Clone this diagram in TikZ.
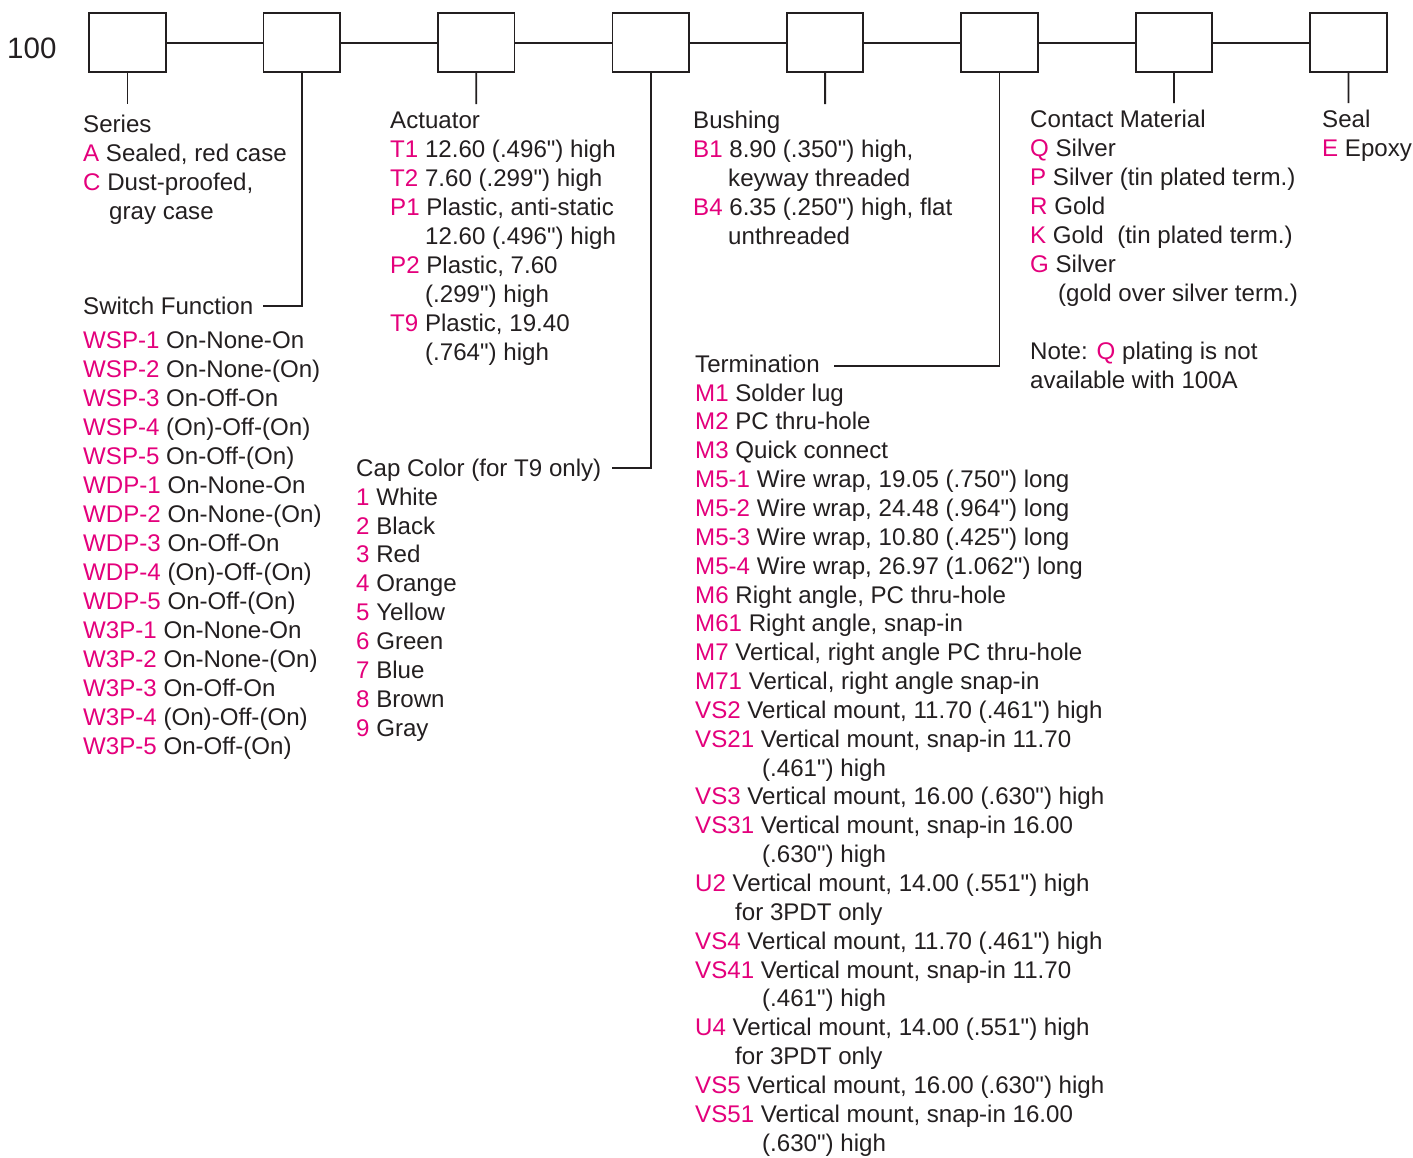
\documentclass[tikz,border=0pt]{standalone}
\usepackage{fontspec}
\setmainfont{Liberation Sans}
\definecolor{ink}{HTML}{231F20}
\definecolor{mag}{HTML}{E4007C}
\newcommand\mg[1]{\textcolor{mag}{#1}}
\newcommand\mys{\rule[-7pt]{0pt}{28pt}}
\font\qfont="Liberation Sans" at 24.1pt
\newcommand\q{{\qfont\char34}}
\begin{document}
\begin{tikzpicture}[x=1pt,y=-1pt,
  box/.style={draw=ink,line width=1.8pt,minimum width=76.5pt,minimum height=59pt,inner sep=0pt},
  wire/.style={draw=ink,line width=1.8pt},
  txt/.style={inner sep=0pt,anchor=north west,align=left,text=ink,font=\fontsize{24.1}{29}\selectfont},
  txtt/.style={txt,font=\fontsize{24.1}{28.85}\selectfont},
  txtc/.style={txt,font=\fontsize{24.1}{28.9}\selectfont}]
\useasboundingbox (0,0) rectangle (1413,1157);
\fill[white] (0,0) rectangle (1413,1157);

\node[inner sep=0pt,anchor=base west,text=ink,font=\fontsize{29.5}{34}\selectfont] (code) at (7,58) {100};

\foreach \k in {1,...,8}{
  \node[box] (b\k) at ({127.4+174.43*(\k-1)},42.8) {};
}
\foreach \a/\b in {1/2,2/3,3/4,4/5,5/6,6/7,7/8}{
  \draw[wire] (b\a.east) -- (b\b.west);
}

% stubs
\coordinate (s1) at (127.4,104);
\coordinate (s3) at (476.3,104);
\coordinate (s5) at (825.1,104);
\coordinate (s7) at (1174.0,103);
\coordinate (s8) at (1348.4,103);
\draw[wire] (b1.south) -- (s1);
\draw[wire] (b3.south) -- (s3);
\draw[wire] (b5.south) -- (s5);
\draw[wire] (b7.south) -- (s7);
\draw[wire] (b8.south) -- (s8);
\coordinate (e2) at (263,306);
\coordinate (e4) at (612,468.3);
\coordinate (e6) at (834,366);
\draw[wire] (b2.south) |- (e2);
\draw[wire] (b4.south) |- (e4);
\draw[wire] (b6.south) |- (e6);

% Series
\node[txt] (series) at (83,111) {\mys Series\\
\mys\mg{A} Sealed, red case\\
\mys\mg{C} Dust-proofed,\\
\mys\hspace*{26pt}gray case};

% Switch function
\node[txt] (swhdr) at (83,293) {\mys Switch Function};
\node[txt] (swlist) at (83,327) {\mys\mg{WSP-1} On-None-On\\
\mys\mg{WSP-2} On-None-(On)\\
\mys\mg{WSP-3} On-Off-On\\
\mys\mg{WSP-4} (On)-Off-(On)\\
\mys\mg{WSP-5} On-Off-(On)\\
\mys\mg{WDP-1} On-None-On\\
\mys\mg{WDP-2} On-None-(On)\\
\mys\mg{WDP-3} On-Off-On\\
\mys\mg{WDP-4} (On)-Off-(On)\\
\mys\mg{WDP-5} On-Off-(On)\\
\mys\mg{W3P-1} On-None-On\\
\mys\mg{W3P-2} On-None-(On)\\
\mys\mg{W3P-3} On-Off-On\\
\mys\mg{W3P-4} (On)-Off-(On)\\
\mys\mg{W3P-5} On-Off-(On)};

% Actuator
\node[txt] (act) at (390,107) {\mys Actuator\\
\mys\mg{T1} 12.60 (.496\q) high\\
\mys\mg{T2} 7.60 (.299\q) high\\
\mys\mg{P1} Plastic, anti-static\\
\mys\hspace*{35pt}12.60 (.496\q) high\\
\mys\mg{P2} Plastic, 7.60\\
\mys\hspace*{35pt}(.299\q) high\\
\mys\mg{T9} Plastic, 19.40\\
\mys\hspace*{35pt}(.764\q) high};

% Cap color
\node[txtc] (cap) at (356,455) {\mys Cap Color (for T9 only)\\
\mys\mg{1} White\\
\mys\mg{2} Black\\
\mys\mg{3} Red\\
\mys\mg{4} Orange\\
\mys\mg{5} Yellow\\
\mys\mg{6} Green\\
\mys\mg{7} Blue\\
\mys\mg{8} Brown\\
\mys\mg{9} Gray};

% Bushing
\node[txt] (bush) at (693,107) {\mys Bushing\\
\mys\mg{B1} 8.90 (.350\q) high,\\
\mys\hspace*{35pt}keyway threaded\\
\mys\mg{B4} 6.35 (.250\q) high, flat\\
\mys\hspace*{35pt}unthreaded};

% Termination
\node[txtt] (term) at (695,351) {\mys Termination\\
\mys\mg{M1} Solder lug\\
\mys\mg{M2} PC thru-hole\\
\mys\mg{M3} Quick connect\\
\mys\mg{M5-1} Wire wrap, 19.05 (.750\q) long\\
\mys\mg{M5-2} Wire wrap, 24.48 (.964\q) long\\
\mys\mg{M5-3} Wire wrap, 10.80 (.425\q) long\\
\mys\mg{M5-4} Wire wrap, 26.97 (1.062\q) long\\
\mys\mg{M6} Right angle, PC thru-hole\\
\mys\mg{M61} Right angle, snap-in\\
\mys\mg{M7} Vertical, right angle PC thru-hole\\
\mys\mg{M71} Vertical, right angle snap-in\\
\mys\mg{VS2} Vertical mount, 11.70 (.461\q) high\\
\mys\mg{VS21} Vertical mount, snap-in 11.70\\
\mys\hspace*{67pt}(.461\q) high\\
\mys\mg{VS3} Vertical mount, 16.00 (.630\q) high\\
\mys\mg{VS31} Vertical mount, snap-in 16.00\\
\mys\hspace*{67pt}(.630\q) high\\
\mys\mg{U2} Vertical mount, 14.00 (.551\q) high\\
\mys\hspace*{40pt}for 3PDT only\\
\mys\mg{VS4} Vertical mount, 11.70 (.461\q) high\\
\mys\mg{VS41} Vertical mount, snap-in 11.70\\
\mys\hspace*{67pt}(.461\q) high\\
\mys\mg{U4} Vertical mount, 14.00 (.551\q) high\\
\mys\hspace*{40pt}for 3PDT only\\
\mys\mg{VS5} Vertical mount, 16.00 (.630\q) high\\
\mys\mg{VS51} Vertical mount, snap-in 16.00\\
\mys\hspace*{67pt}(.630\q) high};

% Contact material
\node[txt] (cont) at (1030,106) {\mys Contact Material\\
\mys\mg{Q} Silver\\
\mys\mg{P} Silver (tin plated term.)\\
\mys\mg{R} Gold\\
\mys\mg{K} Gold\ \ (tin plated term.)\\
\mys\mg{G} Silver\\
\mys\hspace*{28pt}(gold over silver term.)\\
\mys\\
\mys Note: \mg{Q} plating is not\\
\mys available with 100A};

% Seal
\node[txt] (seal) at (1322,106) {\mys Seal\\
\mys\mg{E} Epoxy};
\end{tikzpicture}
\end{document}
